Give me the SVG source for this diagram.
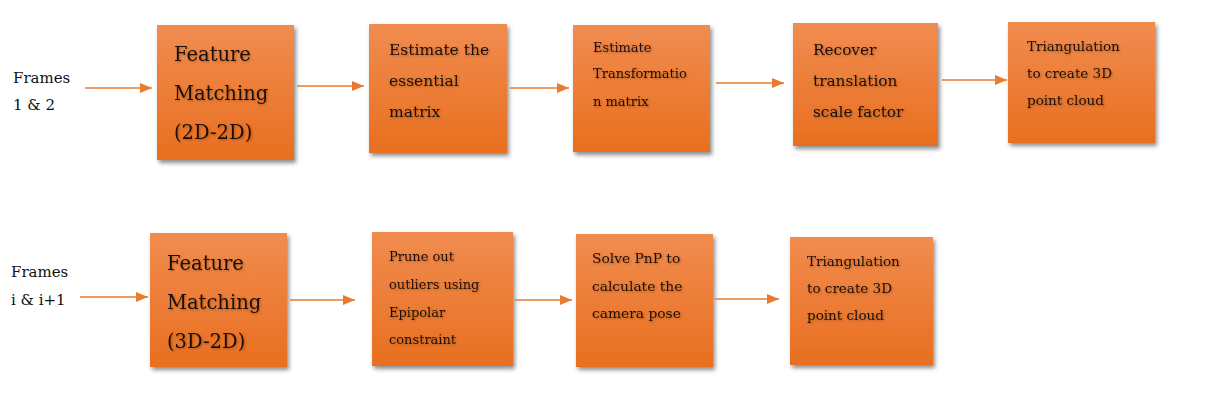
<svg xmlns="http://www.w3.org/2000/svg" width="1226" height="403" viewBox="0 0 1226 403">
<defs>
<linearGradient id="g" x1="0" y1="0" x2="0" y2="1">
<stop offset="0" stop-color="#F18C50"/>
<stop offset="1" stop-color="#E86F1F"/>
</linearGradient>
<filter id="sh" x="-10%" y="-10%" width="125%" height="125%">
<feDropShadow dx="2" dy="3" stdDeviation="2" flood-color="#000" flood-opacity="0.45"/>
</filter>
<filter id="ts" x="-5%" y="-20%" width="115%" height="150%">
<feDropShadow dx="1" dy="1" stdDeviation="0.8" flood-color="#5a2a0a" flood-opacity="0.45"/>
</filter>
<marker id="ah" viewBox="0 0 12 10" refX="12" refY="5" markerWidth="12" markerHeight="10" markerUnits="userSpaceOnUse" orient="auto">
<path d="M0,0 L12,5 L0,10 Z" fill="#E97B30"/>
</marker>
</defs>
<style>
.box{fill:url(#g);filter:url(#sh)}
.t{font-family:"DejaVu Serif","Liberation Serif",serif;fill:#1a0f08;filter:url(#ts)}
.lbl{font-family:"DejaVu Serif","Liberation Serif",serif;fill:#111;font-size:15px}
.c{stroke:#E97B30;stroke-width:1.3;fill:none;marker-end:url(#ah)}
</style>
<rect width="1226" height="403" fill="#fff"/>

<g id="label1">
<text class="lbl" x="13" y="83">Frames</text>
<text class="lbl" x="13" y="110">1 &amp; 2</text>
</g>
<g id="label2">
<text class="lbl" x="11" y="277">Frames</text>
<text class="lbl" x="11" y="305">i &amp; i+1</text>
</g>

<g id="n1">
<rect class="box" x="157" y="25" width="137" height="135"/>
<text class="t" font-size="19.5" x="174" y="61">Feature</text>
<text class="t" font-size="19.5" x="174" y="100">Matching</text>
<text class="t" font-size="19.5" x="174" y="139">(2D-2D)</text>
</g>
<g id="n2">
<rect class="box" x="369" y="24" width="138" height="129"/>
<text class="t" font-size="15.5" x="389" y="55">Estimate the</text>
<text class="t" font-size="15.5" x="389" y="86">essential</text>
<text class="t" font-size="15.5" x="389" y="117">matrix</text>
</g>
<g id="n3">
<rect class="box" x="573" y="25" width="137" height="127"/>
<text class="t" font-size="13" x="593" y="52">Estimate</text>
<text class="t" font-size="13" x="593" y="78">Transformatio</text>
<text class="t" font-size="13" x="593" y="106">n matrix</text>
</g>
<g id="n4">
<rect class="box" x="793" y="23" width="145" height="123"/>
<text class="t" font-size="15.3" x="813" y="55">Recover</text>
<text class="t" font-size="15.3" x="813" y="86">translation</text>
<text class="t" font-size="15.3" x="813" y="117">scale factor</text>
</g>
<g id="n5">
<rect class="box" x="1008" y="22" width="147" height="121"/>
<text class="t" font-size="13.5" x="1027" y="51">Triangulation</text>
<text class="t" font-size="13.5" x="1027" y="78">to create 3D</text>
<text class="t" font-size="13.5" x="1027" y="105">point cloud</text>
</g>

<g id="m1">
<rect class="box" x="150" y="233" width="137" height="134"/>
<text class="t" font-size="19.5" x="167" y="270">Feature</text>
<text class="t" font-size="19.5" x="167" y="309">Matching</text>
<text class="t" font-size="19.5" x="167" y="348">(3D-2D)</text>
</g>
<g id="m2">
<rect class="box" x="372" y="232" width="141" height="134"/>
<text class="t" font-size="13" x="389" y="261">Prune out</text>
<text class="t" font-size="13" x="389" y="289">outliers using</text>
<text class="t" font-size="13" x="389" y="317">Epipolar</text>
<text class="t" font-size="13" x="389" y="344">constraint</text>
</g>
<g id="m3">
<rect class="box" x="576" y="234" width="137" height="133"/>
<text class="t" font-size="13.8" x="592" y="263">Solve PnP to</text>
<text class="t" font-size="13.8" x="592" y="291">calculate the</text>
<text class="t" font-size="13.8" x="592" y="318">camera pose</text>
</g>
<g id="m4">
<rect class="box" x="790" y="237" width="143" height="128"/>
<text class="t" font-size="13.5" x="807" y="266">Triangulation</text>
<text class="t" font-size="13.5" x="807" y="293">to create 3D</text>
<text class="t" font-size="13.5" x="807" y="320">point cloud</text>
</g>

<g id="connectors">
<line class="c" x1="85" y1="88" x2="152" y2="88"/>
<line class="c" x1="297" y1="86" x2="364" y2="86"/>
<line class="c" x1="510" y1="88" x2="569" y2="88"/>
<line class="c" x1="716" y1="83" x2="784" y2="83"/>
<line class="c" x1="942" y1="80" x2="1007" y2="80"/>
<line class="c" x1="80" y1="297" x2="148" y2="297"/>
<line class="c" x1="290" y1="300" x2="355" y2="300"/>
<line class="c" x1="515" y1="300" x2="572" y2="300"/>
<line class="c" x1="715" y1="299" x2="779" y2="299"/>
</g>
</svg>
